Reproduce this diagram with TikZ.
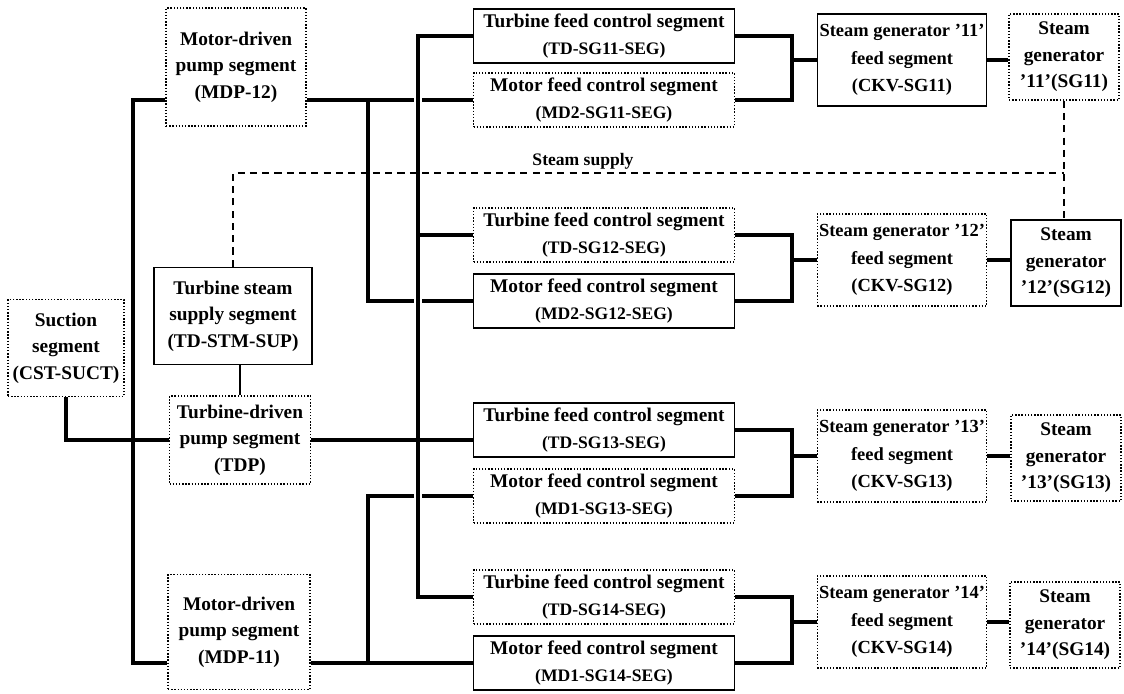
\documentclass[tikz,border=0pt]{standalone}
\usepackage{fontspec}
\setmainfont{Liberation Serif}
\newcommand{\segcode}[1]{{\fontsize{10}{15}\selectfont #1}}

\begin{document}
\begin{tikzpicture}[x=0.02cm, y=-0.02cm,
    segbox/.style={draw, line width=0.8pt, align=center, inner sep=1pt,
      font=\fontsize{11}{15}\selectfont\bfseries},
    segboxd/.style={segbox, densely dotted, line width=0.7pt},
    ctrl/.style={minimum width=5.22cm, minimum height=1.08cm},
    feed/.style={minimum width=3.3cm, minimum height=1.84cm,
      font=\fontsize{10.5}{15.5}\selectfont\bfseries},
    sgen/.style={minimum width=2.2cm, minimum height=1.72cm},
    bus/.style={line width=2pt},
    link/.style={line width=0.6pt},
    steam/.style={line width=1pt, dash pattern=on 4pt off 3pt}]
    \useasboundingbox (0,0) rectangle (1124,693);

    % suction and pumps
    \node[segboxd, minimum width=2.32cm, minimum height=1.94cm] (suct) at (66,348) {Suction\\segment\\(CST-SUCT)};
    \node[segboxd, minimum width=2.8cm, minimum height=2.36cm] (mdp12) at (236,67) {Motor-driven\\pump segment\\(MDP-12)};
    \node[segbox, minimum width=3.16cm, minimum height=1.94cm] (tdstm) at (233,316) {Turbine steam\\supply segment\\(TD-STM-SUP)};
    \node[segboxd, minimum width=2.82cm, minimum height=1.76cm] (tdp) at (240,440) {Turbine-driven\\pump segment\\(TDP)};
    \node[segboxd, minimum width=2.84cm, minimum height=2.3cm] (mdp11) at (239,632) {Motor-driven\\pump segment\\(MDP-11)};

    % feed control segments
    \node[segbox, ctrl] (tdsg11) at (604,36) {Turbine feed control segment\\\segcode{(TD-SG11-SEG)}};
    \node[segboxd, ctrl] (md2sg11) at (604,100) {Motor feed control segment\\\segcode{(MD2-SG11-SEG)}};
    \node[segboxd, ctrl] (tdsg12) at (604,235) {Turbine feed control segment\\\segcode{(TD-SG12-SEG)}};
    \node[segbox, ctrl] (md2sg12) at (604,301) {Motor feed control segment\\\segcode{(MD2-SG12-SEG)}};
    \node[segbox, ctrl] (tdsg13) at (604,430) {Turbine feed control segment\\\segcode{(TD-SG13-SEG)}};
    \node[segboxd, ctrl] (md1sg13) at (604,496) {Motor feed control segment\\\segcode{(MD1-SG13-SEG)}};
    \node[segboxd, ctrl] (tdsg14) at (604,597) {Turbine feed control segment\\\segcode{(TD-SG14-SEG)}};
    \node[segbox, ctrl] (md1sg14) at (604,663) {Motor feed control segment\\\segcode{(MD1-SG14-SEG)}};

    % steam generator feed segments
    \node[segbox, feed] (ckv11) at (902,60) {Steam generator '11'\\feed segment\\(CKV-SG11)};
    \node[segboxd, feed] (ckv12) at (902,260) {Steam generator '12'\\feed segment\\(CKV-SG12)};
    \node[segboxd, feed] (ckv13) at (902,456) {Steam generator '13'\\feed segment\\(CKV-SG13)};
    \node[segboxd, feed] (ckv14) at (902,622) {Steam generator '14'\\feed segment\\(CKV-SG14)};

    % steam generators
    \node[segboxd, sgen] (sg11) at (1064,57) {Steam\\generator\\'11'(SG11)};
    \node[segbox, sgen] (sg12) at (1066,263) {Steam\\generator\\'12'(SG12)};
    \node[segboxd, sgen] (sg13) at (1066,458) {Steam\\generator\\'13'(SG13)};
    \node[segboxd, sgen] (sg14) at (1065,625) {Steam\\generator\\'14'(SG14)};

    \coordinate (lbus) at (133,0);
    \coordinate (mbus) at (368,0);
    \coordinate (tbus) at (418,0);
    \coordinate (jbus) at (792,0);
    \coordinate (stline) at (0,173);

    % suction to the pumps
    \draw[bus] (suct.south) |- (tdp.west);
    \draw[bus] (mdp12.west |- md2sg11.west) -- (lbus |- md2sg11.west) -- (lbus |- md1sg14.west) -- (mdp11.west |- md1sg14.west);

    % motor-driven headers
    \draw[bus] (mdp12.east |- md2sg11.west) -- (md2sg11.west);
    \draw[bus] (mbus |- md2sg11.west) |- (md2sg12.west);
    \draw[bus] (mdp11.east |- md1sg14.west) -- (md1sg14.west);
    \draw[bus] (mbus |- md1sg14.west) |- (md1sg13.west);

    % turbine-driven header
    \draw[white, line width=5pt, xshift=2.5pt] (tbus |- tdsg11.west) -- (tbus |- tdsg14.west);
    \draw[bus] (tdsg11.west) -| (tbus |- tdsg14.west) -- (tdsg14.west);
    \draw[bus] (tbus |- tdsg12.west) -- (tdsg12.west);
    \draw[bus] (tdp.east) -- (tdp.east -| tdsg13.west);

    % control segments to feed segments
    \draw[bus] (tdsg11.east) -| (jbus |- md2sg11.east) -- (md2sg11.east);
    \draw[bus] (tdsg12.east) -| (jbus |- md2sg12.east) -- (md2sg12.east);
    \draw[bus] (tdsg13.east) -| (jbus |- md1sg13.east) -- (md1sg13.east);
    \draw[bus] (tdsg14.east) -| (jbus |- md1sg14.east) -- (md1sg14.east);
    \draw[bus] (ckv11.west) -- (ckv11.west -| jbus);
    \draw[bus] (ckv12.west) -- (ckv12.west -| jbus);
    \draw[bus] (ckv13.west) -- (ckv13.west -| jbus);
    \draw[bus] (ckv14.west) -- (ckv14.west -| jbus);

    % feed segments to steam generators
    \draw[bus] (ckv11.east) -- (ckv11.east -| sg11.west);
    \draw[bus] (ckv12.east) -- (ckv12.east -| sg12.west);
    \draw[bus] (ckv13.east) -- (ckv13.east -| sg13.west);
    \draw[bus] (ckv14.east) -- (ckv14.east -| sg14.west);

    % steam supply
    \draw[link] (tdp.north) -- (tdp.north |- tdstm.south);
    \draw[steam] (tdstm.north) |- (stline -| sg11.south);
    \draw[steam] (sg11.south) -- (sg11.south |- sg12.north);
    \node[font=\fontsize{10}{12}\selectfont\bfseries] (stlbl) at (583,161) {Steam supply};
  \end{tikzpicture}
\end{document}
